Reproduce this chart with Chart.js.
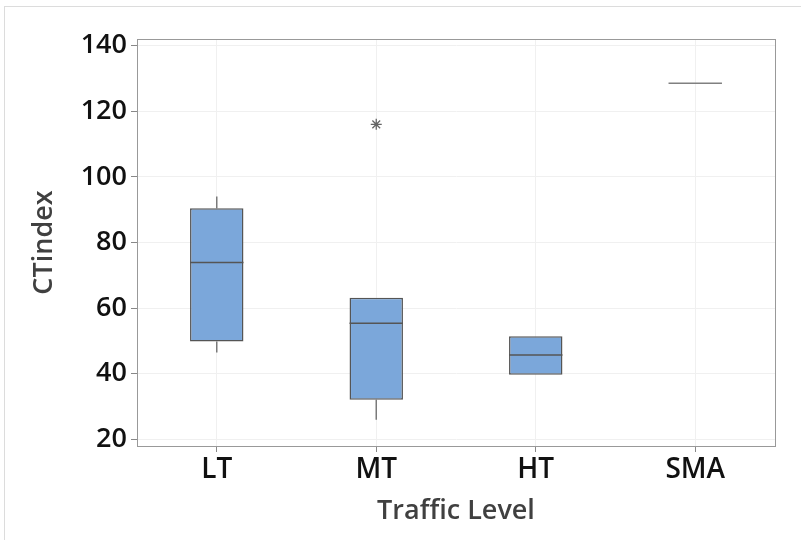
<!DOCTYPE html>
<html>
<head>
<meta charset="utf-8">
<script src="https://cdn.jsdelivr.net/npm/chart.js@4"></script>
<style>
  html, body { margin: 0; padding: 0; background: #fff; }
  #frame { position: absolute; left: 4px; top: 6px; width: 900px; height: 600px;
           border-left: 1px solid #dcdcdc; border-top: 1px solid #dcdcdc; }
  #wrap { position: absolute; left: 0; top: 0; width: 801px; height: 540px; }
</style>
</head>
<body>
<div id="frame"></div>
<div id="wrap"><canvas id="boxChart" width="801" height="540"></canvas></div>
<script>
const categories = ['LT', 'MT', 'HT', 'SMA'];
const q1 = [49.8, 32.1, 39.7, 128.5];
const median = [73.9, 55.4, 45.7, 128.5];
const q3 = [90.4, 63.2, 51.4, 128.5];
const whiskerLow = [46.5, 26.0, 39.7, 128.5];
const whiskerHigh = [94.0, 63.2, 51.4, 128.5];
const outliers = [null, 116.0, null, null];
const yTicks = [20, 40, 60, 80, 100, 120, 140];

const fontFamily = "'Open Sans', 'Noto Sans', sans-serif";

// whiskers behind the boxes, medians and frame on top
const boxParts = {
  id: 'boxParts',
  beforeDatasetsDraw(chart) {
    const ctx = chart.ctx;
    const y = chart.scales.y;
    const meta = chart.getDatasetMeta(0);
    ctx.save();
    ctx.strokeStyle = '#7a7a7a';
    ctx.lineWidth = 1.5;
    meta.data.forEach((bar, i) => {
      ctx.beginPath();
      ctx.moveTo(bar.x, y.getPixelForValue(q3[i]));
      ctx.lineTo(bar.x, y.getPixelForValue(whiskerHigh[i]));
      ctx.moveTo(bar.x, y.getPixelForValue(q1[i]));
      ctx.lineTo(bar.x, y.getPixelForValue(whiskerLow[i]));
      ctx.stroke();
    });
    ctx.restore();
  },
  afterDatasetsDraw(chart) {
    const ctx = chart.ctx;
    const y = chart.scales.y;
    const meta = chart.getDatasetMeta(0);
    ctx.save();
    ctx.lineWidth = 1.5;
    meta.data.forEach((bar, i) => {
      const half = bar.width / 2;
      const py = y.getPixelForValue(median[i]);
      ctx.strokeStyle = q1[i] === q3[i] ? '#808080' : '#555';
      ctx.beginPath();
      ctx.moveTo(bar.x - half, py);
      ctx.lineTo(bar.x + half, py);
      ctx.stroke();
    });
    const a = chart.chartArea;
    ctx.strokeStyle = '#999';
    ctx.lineWidth = 1;
    ctx.strokeRect(a.left + 0.5, a.top + 0.5, a.right - a.left, a.bottom - a.top);
    ctx.restore();
  }
};

const ctx = document.getElementById('boxChart').getContext('2d');
new Chart(ctx, {
  type: 'bar',
  data: {
    labels: categories,
    datasets: [{
      label: 'Box',
      data: q1.map((v, i) => [v, q3[i]]),
      backgroundColor: '#7ba7da',
      borderColor: q1.map((v, i) => v === q3[i] ? 'rgba(0,0,0,0)' : '#555'),
      borderWidth: 1.5,
      borderSkipped: false,
      barPercentage: 0.335,
      categoryPercentage: 1
    }, {
      type: 'line',
      label: 'Outlier',
      data: outliers,
      showLine: false,
      pointStyle: 'star',
      pointRadius: 5.5,
      borderColor: '#666',
      borderWidth: 1.3
    }]
  },
  options: {
    responsive: false,
    animation: false,
    layout: { padding: { top: 39, right: 26, left: 0, bottom: 0 } },
    plugins: {
      legend: { display: false },
      tooltip: { enabled: false }
    },
    scales: {
      x: {
        afterFit: s => { s.height = 94; },
        grid: { offset: false, color: '#f0f0f0', tickColor: '#888', tickLength: 6 },
        border: { color: '#999' },
        ticks: { color: '#111', padding: 1, font: { family: fontFamily, size: 28, weight: '600' } },
        title: {
          display: true, text: 'Traffic Level', color: '#404040',
          padding: { top: 0, bottom: 12 }, font: { family: fontFamily, size: 27, weight: '600' }
        }
      },
      y: {
        min: 18,
        max: 142,
        afterFit: s => { s.width = 137; },
        afterBuildTicks: s => { s.ticks = yTicks.map(v => ({ value: v })); },
        grid: { color: '#f0f0f0', tickColor: '#888', tickLength: 6 },
        border: { color: '#999' },
        ticks: { color: '#111', padding: 4, font: { family: fontFamily, size: 27, weight: '600' } },
        title: {
          display: true, text: 'CTindex', color: '#404040',
          padding: { top: 28, bottom: 0 }, font: { family: fontFamily, size: 27, weight: '600' }
        }
      }
    }
  },
  plugins: [boxParts]
});
</script>
</body>
</html>
